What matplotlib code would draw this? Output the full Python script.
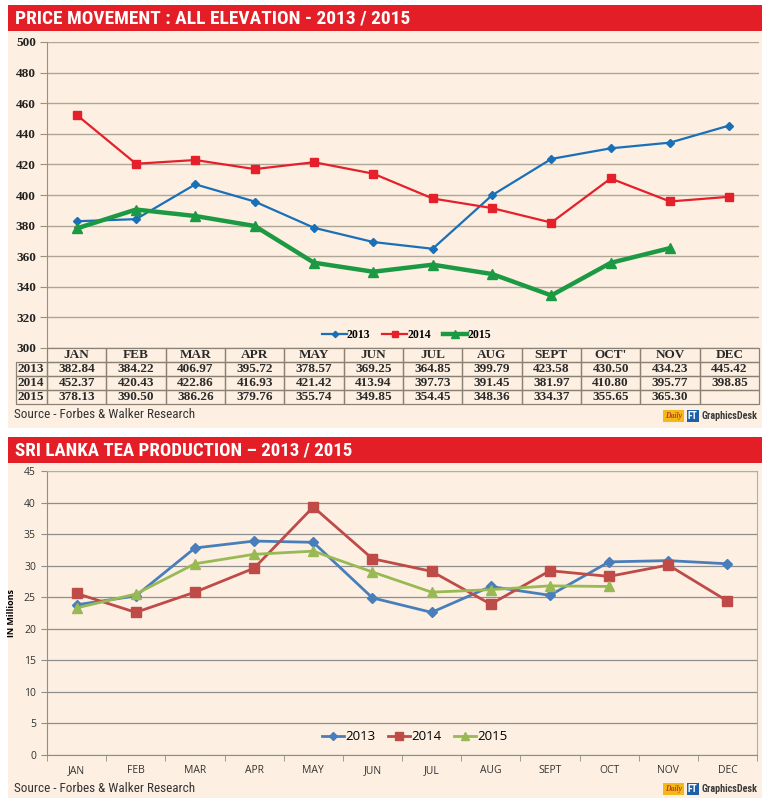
#!/usr/bin/env python3
"""Tea price movement and tea production panels (2013 / 2015)."""

import matplotlib
matplotlib.use("Agg")
import matplotlib.pyplot as plt
from matplotlib import font_manager
from matplotlib.patches import Rectangle
import numpy as np

W, H = 770, 798

MONTHS_PRICE = ["JAN", "FEB", "MAR", "APR", "MAY", "JUN", "JUL", "AUG", "SEPT", "OCT'", "NOV", "DEC"]
MONTHS_PROD = ["JAN", "FEB", "MAR", "APR", "MAY", "JUN", "JUL", "AUG", "SEPT", "OCT", "NOV", "DEC"]
YEARS = ["2013", "2014", "2015"]

PRICE_2013 = [382.84, 384.22, 406.97, 395.72, 378.57, 369.25, 364.85, 399.79, 423.58, 430.50, 434.23, 445.42]
PRICE_2014 = [452.37, 420.43, 422.86, 416.93, 421.42, 413.94, 397.73, 391.45, 381.97, 410.80, 395.77, 398.85]
PRICE_2015 = [378.13, 390.50, 386.26, 379.76, 355.74, 349.85, 354.45, 348.36, 334.37, 355.65, 365.30]

PROD_2013 = [23.8, 25.2, 32.8, 33.9, 33.7, 24.9, 22.6, 26.7, 25.3, 30.6, 30.8, 30.3]
PROD_2014 = [25.6, 22.6, 25.8, 29.6, 39.3, 31.1, 29.1, 23.9, 29.2, 28.3, 30.1, 24.4]
PROD_2015 = [23.3, 25.5, 30.3, 31.8, 32.3, 29.0, 25.8, 26.2, 26.8, 26.7]

PEACH = "#fdf0e2"
BANNER_RED = "#e31e26"
SERIF = ["Liberation Serif", "DejaVu Serif"]
SANS = ["Open Sans", "DejaVu Sans"]

# prefer a narrow face for the headline-style texts when one is installed
_names = {f.name for f in font_manager.fontManager.ttflist}
_narrow = [n for n in ["Liberation Sans Narrow", "Roboto Condensed", "Open Sans Condensed",
                       "DejaVu Sans Condensed"] if n in _names]
COND = _narrow + ["Roboto", "DejaVu Sans"]


def box(x0, y0, x1, y1):
    return [x0 / W, 1 - y1 / H, (x1 - x0) / W, (y1 - y0) / H]


def px(x, y):
    return x / W, 1 - y / H


def fit_width(fig, text, width_px):
    """Shrink or grow a text so that it spans width_px pixels."""
    renderer = fig.canvas.get_renderer()
    w = text.get_window_extent(renderer).width
    text.set_fontsize(text.get_fontsize() * width_px / w)


def logo(fig, y):
    fx, fy = px(665, y)
    fig.text(fx, fy, "Daily", fontsize=5.5, style="italic", fontweight="bold", color="#c0392b",
             family=SERIF, va="center", ha="left",
             bbox=dict(boxstyle="square,pad=0.3", fc="#f5b819", ec="none"))
    fx, fy = px(688, y)
    fig.text(fx, fy, "FT", fontsize=7, fontweight="bold", color="white", family=COND,
             va="center", ha="left",
             bbox=dict(boxstyle="square,pad=0.15", fc="#1d5fa8", ec="none"))
    fx, fy = px(701, y)
    t = fig.text(fx, fy, "GraphicsDesk", fontsize=10, fontweight="bold", color="#3a3a3a",
                 family=COND, va="center", ha="left")
    fit_width(fig, t, 56)


fig = plt.figure(figsize=(W / 100, H / 100), dpi=100)
fig.patch.set_facecolor("white")

# backgrounds and banners
bg = fig.add_axes([0, 0, 1, 1])
bg.set_xlim(0, W)
bg.set_ylim(H, 0)
bg.axis("off")
bg.add_patch(Rectangle((8, 31), 754, 397, fc=PEACH, ec="none"))
bg.add_patch(Rectangle((8, 463), 754, 335, fc=PEACH, ec="none"))
bg.add_patch(Rectangle((8, 5), 754, 26, fc=BANNER_RED, ec="none"))
bg.add_patch(Rectangle((8, 437), 754, 26, fc=BANNER_RED, ec="none"))
t1 = bg.text(15, 18.5, "PRICE MOVEMENT : ALL ELEVATION - 2013 / 2015", color="white", fontsize=16,
             fontweight="bold", family=COND, va="center", ha="left")
t2 = bg.text(15, 450.5, "SRI LANKA TEA PRODUCTION \u2013 2013 / 2015", color="white", fontsize=16,
             fontweight="bold", family=COND, va="center", ha="left")
fit_width(fig, t1, 395)
fit_width(fig, t2, 337)

# ---- top panel: price movement ----
ax = fig.add_axes(box(47, 42, 759, 348))
ax.set_facecolor("none")
x1 = np.arange(len(MONTHS_PRICE))
ax.plot(x1, PRICE_2013, color="#1a6fb9", lw=1.6, marker="D", ms=4, label="2013")
ax.plot(x1, PRICE_2014, color="#e6202a", lw=1.6, marker="s", ms=6, label="2014")
ax.plot(x1[:len(PRICE_2015)], PRICE_2015, color="#1c9a43", lw=3.2, marker="^", ms=7, label="2015")
ax.set_xlim(-0.5, 11.5)
ax.set_ylim(300, 500)
ax.set_yticks(np.arange(300, 501, 20))
ax.set_xticks([])
ax.grid(axis="y", color="#b0a696", lw=1)
ax.set_axisbelow(True)
for s in ["top", "right", "bottom"]:
    ax.spines[s].set_visible(False)
ax.spines["left"].set_color("#9a9080")
ax.tick_params(axis="y", length=5, color="#9a9080", pad=3)
for t in ax.get_yticklabels():
    t.set_fontfamily(SERIF)
    t.set_fontweight("bold")
    t.set_fontsize(9.5)
    t.set_color("#222222")
ax.legend(loc="lower center", bbox_to_anchor=(0.505, 0.0), ncol=3, frameon=False,
          handlelength=2.1, columnspacing=1.0, handletextpad=0.0, borderaxespad=0.2,
          markerscale=0.8, prop=dict(family=SERIF, weight="bold", size=8.5))

# table under the top chart
tab_ax = fig.add_axes(box(16, 348, 759, 404))
tab_ax.axis("off")
rows = [[""] + MONTHS_PRICE]
for name, vals in zip(YEARS, [PRICE_2013, PRICE_2014, PRICE_2015]):
    cells = [f"{v:.2f}" for v in vals] + [""] * (12 - len(vals))
    rows.append([name] + cells)
col_w = [31 / 743] + [712 / 12 / 743] * 12
tbl = tab_ax.table(cellText=rows, colWidths=col_w, bbox=[0, 0, 1, 1], cellLoc="center")
tbl.auto_set_font_size(False)
for (r, c), cell in tbl.get_celld().items():
    cell.set_facecolor("none")
    cell.set_edgecolor("#8c8273")
    cell.set_linewidth(0.9)
    txt = cell.get_text()
    txt.set_fontfamily(SERIF)
    txt.set_fontweight("bold")
    txt.set_fontsize(9.5)
    txt.set_color("#2a2a2a")
    if c == 0:
        txt.set_ha("left")
        cell.PAD = 0.04
    if r == 0 and c == 0:
        cell.visible_edges = ""

fx, fy = px(14, 415)
s1 = fig.text(fx, fy, "Source - Forbes & Walker Research", fontsize=11, family=COND,
              color="#333333", va="center", ha="left")
fit_width(fig, s1, 181)
logo(fig, 416)

# ---- bottom panel: tea production ----
ax2 = fig.add_axes(box(47, 471, 757, 755))
ax2.set_facecolor("none")
x2 = np.arange(len(MONTHS_PROD))
ax2.plot(x2, PROD_2013, color="#4a7ebb", lw=2, marker="D", ms=5, label="2013")
ax2.plot(x2, PROD_2014, color="#be4b48", lw=2, marker="s", ms=7, label="2014")
ax2.plot(x2[:len(PROD_2015)], PROD_2015, color="#98b954", lw=2, marker="^", ms=7, label="2015")
ax2.set_xlim(-0.5, 11.5)
ax2.set_ylim(0, 45)
ax2.set_yticks(np.arange(0, 46, 5))
ax2.set_xticks(x2)
ax2.set_xticklabels(MONTHS_PROD)
ax2.set_xticks(np.arange(-0.5, 12, 1), minor=True)
ax2.grid(axis="y", color="#8e8e8e", lw=0.9)
ax2.set_axisbelow(True)
ax2.spines["top"].set_color("#9fb0c8")
ax2.spines["right"].set_color("#9fb0c8")
ax2.spines["left"].set_color("#8e8e8e")
ax2.spines["bottom"].set_color("#8e8e8e")
ax2.tick_params(axis="x", which="major", length=0, pad=7)
ax2.tick_params(axis="x", which="minor", length=4, color="#8e8e8e")
ax2.tick_params(axis="y", length=4, color="#8e8e8e", pad=4)
for t in ax2.get_yticklabels() + ax2.get_xticklabels():
    t.set_fontfamily(SANS)
    t.set_fontsize(7.5)
    t.set_color("#333333")
ax2.set_ylabel("IN Millions", fontsize=6.5, fontweight="bold", family=SANS, labelpad=6)
ax2.legend(loc="lower center", bbox_to_anchor=(0.518, 0.0), ncol=3, frameon=False,
           handlelength=1.7, columnspacing=0.9, handletextpad=0.1, borderaxespad=0.5,
           markerscale=0.85, prop=dict(family=SANS, size=9.5))

fx, fy = px(14, 788)
s2 = fig.text(fx, fy, "Source - Forbes & Walker Research", fontsize=11, family=COND,
              color="#333333", va="center", ha="left")
fit_width(fig, s2, 181)
logo(fig, 789)

fig.savefig("out.png", dpi=100)
